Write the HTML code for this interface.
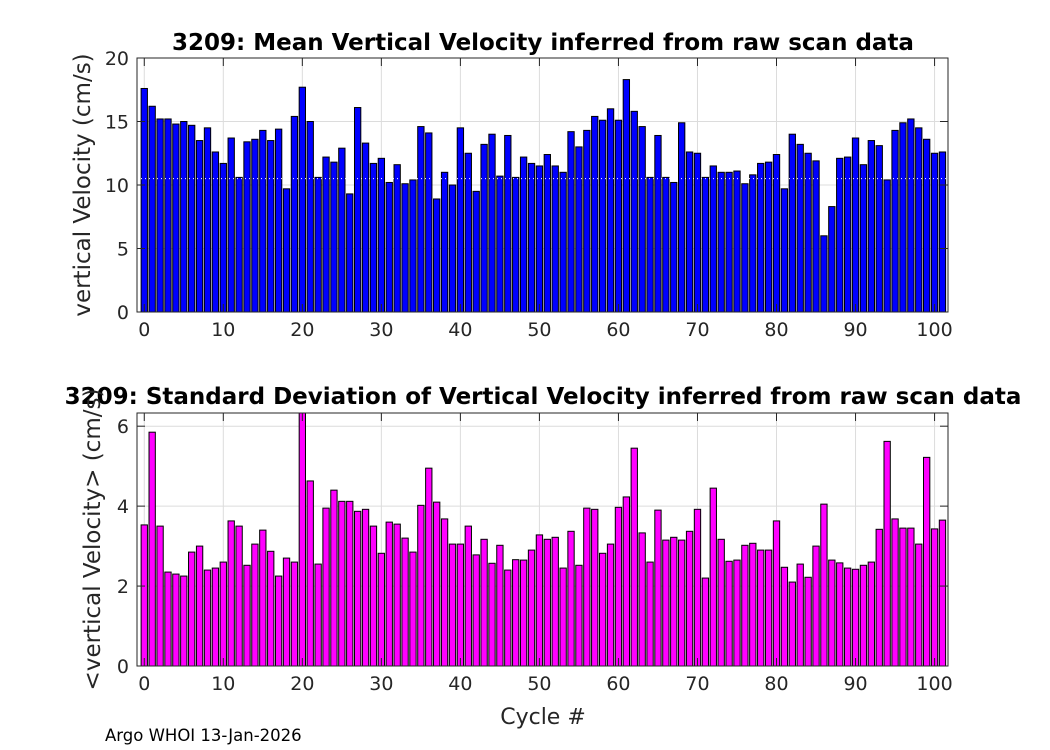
<!DOCTYPE html>
<html><head><meta charset="utf-8"><style>
body{margin:0;background:#fff;}
svg{display:block;font-family:"DejaVu Sans","Liberation Sans",sans-serif;}
</style></head><body>
<svg id="fig" width="1050" height="750"></svg>
<script>
const cycles=[];for(let i=0;i<=101;i++)cycles.push(i);
const meanVel=[17.6,16.2,15.2,15.2,14.8,15.0,14.7,13.5,14.5,12.6,11.7,13.7,10.6,13.4,13.6,14.3,13.5,14.4,9.7,15.4,17.7,15.0,10.6,12.2,11.8,12.9,9.3,16.1,13.3,11.7,12.1,10.2,11.6,10.1,10.4,14.6,14.1,8.9,11.0,10.0,14.5,12.5,9.5,13.2,14.0,10.7,13.9,10.6,12.2,11.7,11.5,12.4,11.5,11.0,14.2,13.0,14.3,15.4,15.1,16.0,15.1,18.3,15.8,14.6,10.6,13.9,10.6,10.2,14.9,12.6,12.5,10.6,11.5,11.0,11.0,11.1,10.1,10.8,11.7,11.8,12.4,9.7,14.0,13.2,12.5,11.9,6.0,8.3,12.1,12.2,13.7,11.6,13.5,13.1,10.4,14.3,14.9,15.2,14.5,13.6,12.5,12.6];
const stdVel=[3.53,5.85,3.5,2.35,2.3,2.25,2.85,3.0,2.4,2.45,2.6,3.63,3.5,2.52,3.05,3.4,2.87,2.25,2.7,2.6,6.5,4.63,2.55,3.95,4.4,4.12,4.12,3.87,3.92,3.5,2.82,3.6,3.55,3.2,2.85,4.02,4.95,4.1,3.68,3.05,3.05,3.5,2.78,3.17,2.57,3.02,2.4,2.66,2.65,2.9,3.28,3.17,3.22,2.45,3.37,2.52,3.95,3.92,2.82,3.05,3.97,4.23,5.45,3.33,2.6,3.9,3.15,3.22,3.15,3.37,3.92,2.2,4.45,3.17,2.62,2.65,3.02,3.07,2.9,2.9,3.63,2.47,2.1,2.55,2.22,3.0,4.05,2.65,2.58,2.45,2.42,2.52,2.6,3.42,5.62,3.68,3.45,3.45,3.05,5.22,3.43,3.65];
const xTicks=[0,10,20,30,40,50,60,70,80,90,100];
const yTicksTop=[0,5,10,15,20];
const yTicksBot=[0,2,4,6];

const NS="http://www.w3.org/2000/svg";
const svg=document.getElementById('fig');
function mk(tag,attrs,parent){const e=document.createElementNS(NS,tag);for(const k in attrs)e.setAttribute(k,attrs[k]);(parent||svg).appendChild(e);return e;}

function panel(cfg){
  const L=137,R=948,T=cfg.top,B=cfg.bottom;
  const xmin=-0.92,xmax=101.7;
  const sx=v=>L+(v-xmin)/(xmax-xmin)*(R-L);
  const sy=v=>B-(v-cfg.ymin)/(cfg.ymax-cfg.ymin)*(B-T);
  const g=mk('g',{});
  
  
  const clip=mk('clipPath',{id:cfg.name+'-clip'},g);
  mk('rect',{x:L,y:T,width:R-L,height:B-T},clip);
  mk('rect',{x:L,y:T,width:R-L,height:B-T,fill:'#fff'},g);
  xTicks.forEach(t=>{const l=mk('line',{x1:sx(t),x2:sx(t),y1:T,y2:B,stroke:'#dcdcdc','stroke-width':1},g);
    });
  cfg.yt.forEach(t=>{const l=mk('line',{x1:L,x2:R,y1:sy(t),y2:sy(t),stroke:'#dcdcdc','stroke-width':1},g);
    });
  const bg=mk('g',{'clip-path':'url(#'+cfg.name+'-clip)'},g);
  const w=0.8*(sx(1)-sx(0));
  cycles.forEach((c,i)=>{
    const v=cfg.data[i];
    const r=mk('rect',{x:sx(c)-w/2,y:sy(v),width:w,height:sy(0)-sy(v),fill:cfg.color,stroke:'#000','stroke-width':1},bg);
    
    
  });
  if(cfg.dotted!==undefined){mk('line',{x1:L,x2:R,y1:sy(cfg.dotted),y2:sy(cfg.dotted),stroke:'#fff','stroke-width':1,'stroke-dasharray':'1,3'},bg);}
  const box=mk('rect',{x:L,y:T,width:R-L,height:B-T,fill:'none',stroke:'#262626','stroke-width':1},g);
  
  xTicks.forEach(t=>{
    mk('line',{x1:sx(t),x2:sx(t),y1:B,y2:B-8,stroke:'#262626'},g);
    mk('line',{x1:sx(t),x2:sx(t),y1:T,y2:T+8,stroke:'#262626'},g);
    const tx=mk('text',{x:sx(t),y:B+24,'font-size':19,'text-anchor':'middle',fill:'#262626'},g);
    tx.textContent=t;
  });
  cfg.yt.forEach(t=>{
    mk('line',{x1:L,x2:L+8,y1:sy(t),y2:sy(t),stroke:'#262626'},g);
    mk('line',{x1:R,x2:R-8,y1:sy(t),y2:sy(t),stroke:'#262626'},g);
    const tx=mk('text',{x:L-8,y:sy(t)+7,'font-size':19,'text-anchor':'end',fill:'#262626'},g);
    tx.textContent=t;
  });
  const ti=mk('text',{x:543,y:cfg.titleY,'font-size':23,'font-weight':'bold','text-anchor':'middle',fill:'#000'},g);
  ti.textContent=cfg.title;
  const yl=mk('text',{x:0,y:0,'font-size':23,'text-anchor':'middle',fill:'#262626',transform:'translate('+cfg.ylx+','+((T+B)/2)+') rotate(-90)'},g);
  yl.textContent=cfg.ylabel;
}
panel({name:'mean-velocity-chart',top:58,bottom:312,ymin:0,ymax:20,yt:yTicksTop,data:meanVel,color:'#0000ff',title:'3209: Mean Vertical Velocity inferred from raw scan data',titleY:50,ylabel:'vertical Velocity (cm/s)',ylx:90,dotted:10.5});
panel({name:'std-velocity-chart',top:413,bottom:666,ymin:0,ymax:6.33,yt:yTicksBot,data:stdVel,color:'#ff00ff',title:'3209: Standard Deviation of Vertical Velocity inferred from raw scan data',titleY:404,ylabel:'<vertical Velocity> (cm/s)',ylx:100});
const xl=mk('text',{x:543,y:724,'font-size':22,'text-anchor':'middle',fill:'#262626'});
xl.textContent='Cycle #';


const ft=mk('text',{x:105,y:741,'font-size':16.5,fill:'#000'});
ft.textContent='Argo WHOI 13-Jan-2026';


</script>
</body></html>
